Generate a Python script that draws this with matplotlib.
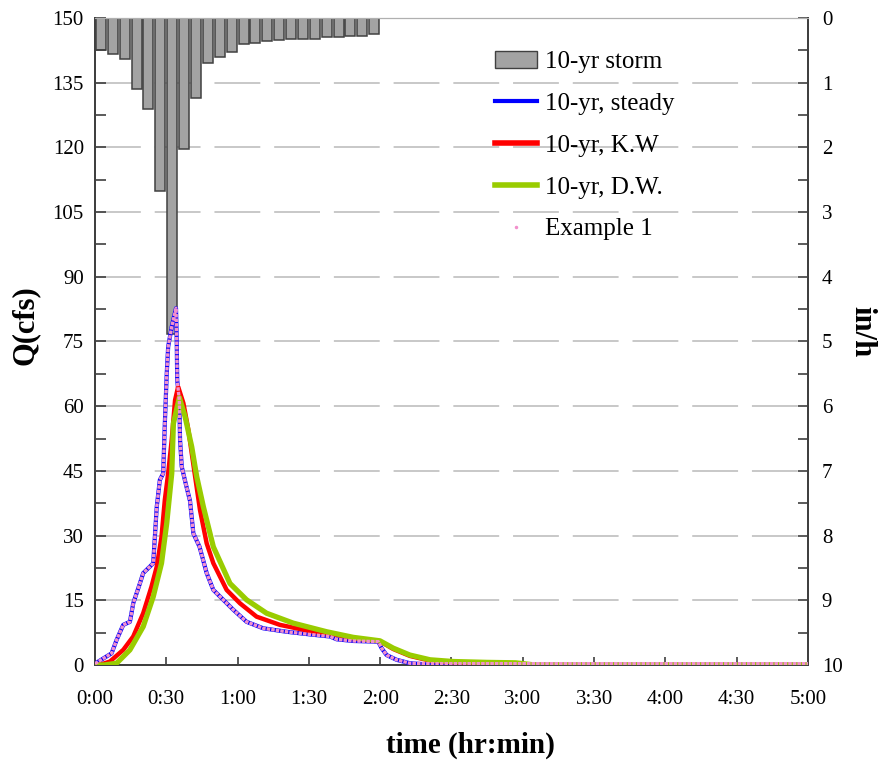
import numpy as np
import matplotlib
matplotlib.use('Agg')
import matplotlib.pyplot as plt
from matplotlib.patches import Patch
from matplotlib.lines import Line2D

plt.rcParams['font.family'] = 'Liberation Serif'
plt.rcParams['lines.scale_dashes'] = False

# rainfall hyetograph, 5-min blocks (in/h)
storm_t = np.arange(2.5, 120, 5.0)
storm_i = [0.49, 0.56, 0.64, 1.09, 1.40, 2.68, 4.88, 2.03, 1.23, 0.70, 0.60, 0.52,
           0.40, 0.38, 0.36, 0.335, 0.32, 0.32, 0.32, 0.295, 0.295, 0.275, 0.275, 0.25]

# steady hydrograph (min, cfs)
steady_t = [0, 3.5, 7, 9.1, 11.9, 14.7, 16.1, 18.9, 20.3, 23.1, 24.5, 25.2, 26, 27.3,
            28.7, 29.4, 30.2, 30.8, 32.3, 34.1, 34.4, 34.6, 35.5, 35.8, 36.5, 38.2, 40,
            41.4, 44, 47, 49.8, 54, 58.2, 63.8, 70.8, 80.6, 91.8, 98.9, 101.7, 108.7,
            119.2, 120.6, 122.7, 126.9, 132.5, 142, 300]
steady_q = [0.3, 1.5, 2.7, 5.8, 9.3, 10, 14.3, 18.9, 21.3, 22.8, 23.6, 29.7, 36.7, 42.9,
            44.4, 56, 67.6, 73.8, 78.4, 82.7, 75.4, 66, 61.4, 52.2, 46, 42, 38,
            30.5, 27.4, 21.3, 17.4, 15.1, 12.8, 10, 8.5, 7.7, 7.0, 6.6, 5.95, 5.56,
            5.4, 3.9, 2.3, 1.2, 0.4, 0.05, 0.05]

# kinematic wave
kw_t = [0, 3, 6.3, 11.9, 16.1, 20.3, 23.8, 26, 28, 29.4, 30.8, 32.3, 33.7, 35, 37.2,
        39.3, 41.4, 44.2, 47, 49.8, 55.4, 61, 68, 77.8, 91.8, 98.9, 108.7, 119.9,
        125.5, 132.5, 141, 150.7, 164.8, 177, 180, 300]
kw_q = [0, 0.2, 0.8, 3.5, 6.6, 12, 18.2, 22.8, 29.7, 38.3, 44.4, 52.2, 61.4, 64.5, 60.7,
        54.5, 46.5, 35.9, 28.2, 23.6, 17.4, 14.3, 11.2, 9.3, 7.7, 7.3, 6.2, 5.5,
        3.7, 2.1, 1.0, 0.6, 0.5, 0.4, 0.0, 0.0]

# diffusion wave
dw_t = [0, 4, 9.1, 14.7, 20.3, 24.5, 28, 30.2, 32.3, 33, 35.5, 37.9, 40.7, 42.8, 45.6,
        49.8, 56.8, 63.8, 72.2, 83.4, 97.5, 108.7, 119.9, 125.5, 132.5, 141, 150.7,
        164.8, 177, 185, 300]
dw_q = [0, 0, 0.4, 3.5, 8.9, 15.8, 23.6, 32.9, 44.4, 56, 62, 57.6, 50.6, 43.7, 36.7,
        27.4, 18.9, 15.1, 12, 9.7, 7.7, 6.4, 5.6, 3.9, 2.3, 1.2, 0.8,
        0.6, 0.5, 0.0, 0.0]

# Example 1 follows the steady solution
ex1_t = steady_t
ex1_q = steady_q[:-2] + [0.3, 0.3]

xticks = np.arange(0, 301, 30)
xlabels = ['0:00', '0:30', '1:00', '1:30', '2:00', '2:30', '3:00', '3:30', '4:00', '4:30', '5:00']

fig = plt.figure(figsize=(8.81, 7.66), dpi=100)
ax = fig.add_axes([0.1078, 0.1319, 0.8093, 0.8446])
ax2 = ax.twinx()
ax2.set_zorder(0)
ax.set_zorder(1)
ax.patch.set_visible(False)

# storm bars hang from the top on the right axis
ax2.set_axisbelow(True)
ax2.yaxis.grid(True, color='#c8c8c8', lw=1.4, linestyle=(0, (33, 10)))
ax2.bar(storm_t, storm_i, width=4.2, color='#a3a3a3', edgecolor='#404040', lw=1.1, zorder=2)
ax2.set_ylim(10, 0)
ax2.set_yticks(range(0, 11))
ax2.set_yticks(np.arange(0.5, 10, 1.0), minor=True)
ax2.tick_params(axis='y', which='both', direction='in', length=7, width=1.2,
                color='#404040', labelsize=15, pad=10)
ax2.set_ylabel('in/h', fontsize=22, fontweight='bold', rotation=270,
               ha='center', va='center', rotation_mode='anchor')
ax2.yaxis.set_label_coords(1.076, 0.515)

ax.plot(steady_t, steady_q, color='#0000ff', lw=3.0, zorder=3)
ax.plot(kw_t, kw_q, color='#ff0000', lw=3.2, zorder=4)
ax.plot(dw_t, dw_q, color='#99cc00', lw=3.8, zorder=5)
ax.plot(ex1_t, ex1_q, color='#f290cc', lw=2.4, linestyle=(0, (2.5, 0.8)), zorder=6)

ax.set_xlim(0, 300)
ax.set_ylim(0, 150)
ax.set_xticks(xticks)
ax.set_xticklabels(xlabels)
ax.set_yticks(np.arange(0, 151, 15))
ax.set_yticks(np.arange(7.5, 150, 15), minor=True)
ax.tick_params(axis='y', which='both', direction='in', length=8, width=1.2,
               color='#404040', labelsize=15, pad=8)
ax.tick_params(axis='x', direction='in', length=6, width=1.2, color='#404040',
               labelsize=15, pad=18)
ax.set_xlabel('time (hr:min)', fontsize=21, fontweight='bold', va='center')
ax.xaxis.set_label_coords(0.526, -0.124)
ax.set_ylabel('Q(cfs)', fontsize=22, fontweight='bold', ha='center', va='center',
              rotation_mode='anchor')
ax.yaxis.set_label_coords(-0.098, 0.525)

for a in (ax, ax2):
    a.spines['top'].set_color('#b0b0b0')
    for s in ('left', 'right', 'bottom'):
        a.spines[s].set_color('#404040')
        a.spines[s].set_linewidth(1.4)

handles = [Patch(facecolor='#a3a3a3', edgecolor='#404040'),
           Line2D([], [], color='#0000ff', lw=3),
           Line2D([], [], color='#ff0000', lw=4),
           Line2D([], [], color='#99cc00', lw=4),
           Line2D([], [], color='#f290cc', ls='none', marker='.', markersize=3)]
labels = ['10-yr storm', '10-yr, steady', '10-yr, K.W', '10-yr, D.W.', 'Example 1']
ax.legend(handles, labels, loc='upper left', bbox_to_anchor=(0.561, 0.949), frameon=False,
          fontsize=18, handlelength=1.68, handletextpad=0.32, labelspacing=0.77,
          borderaxespad=0, borderpad=0)

fig.savefig('out.png', dpi=100)
